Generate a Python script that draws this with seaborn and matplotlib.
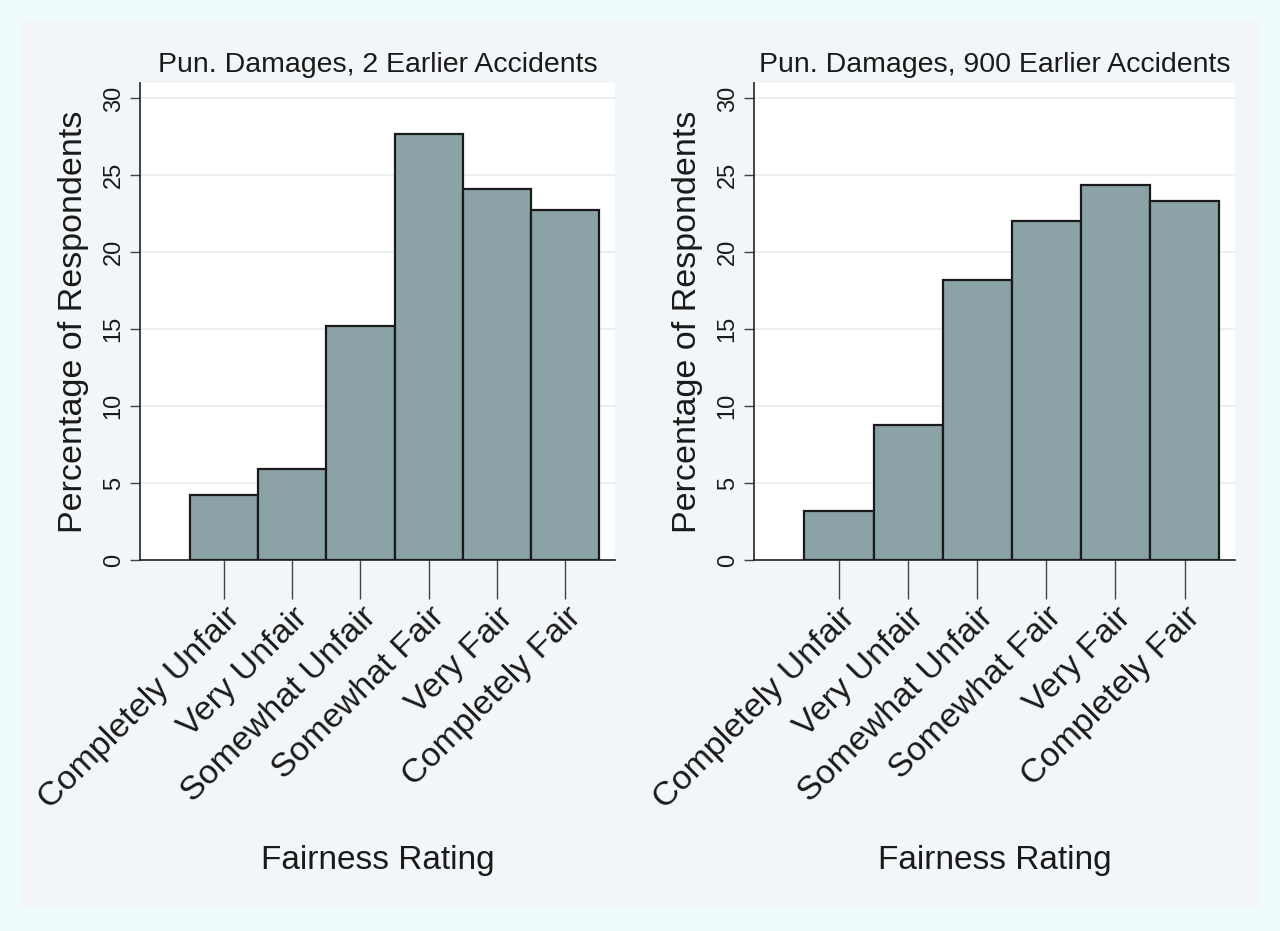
import pandas as pd
import numpy as np
import matplotlib
matplotlib.use('Agg')
import matplotlib.pyplot as plt
from matplotlib.patches import Rectangle
import seaborn as sns

# >> data
ratings = ['Completely Unfair', 'Very Unfair', 'Somewhat Unfair',
           'Somewhat Fair', 'Very Fair', 'Completely Fair']
pct_2_accidents = [4.25, 5.9, 15.2, 27.7, 24.1, 22.75]
pct_900_accidents = [3.2, 8.75, 18.2, 22.05, 24.35, 23.35]
titles = ['Pun. Damages, 2 Earlier Accidents', 'Pun. Damages, 900 Earlier Accidents']
y_ticks = [0, 5, 10, 15, 20, 25, 30]

sns.set_theme(style='white')
plt.rcParams['font.family'] = ['Liberation Sans', 'DejaVu Sans']

bar_color = '#8ba3a6'
ink = '#1a1a1a'

fig = plt.figure(figsize=(12.8, 9.31), dpi=100)
fig.patch.set_facecolor('#eefbfa')
# inner graph region
fig.patches.append(Rectangle((21 / 1280, 1 - 908 / 931), (1259 - 21) / 1280, (908 - 21) / 931,
                             transform=fig.transFigure, facecolor='#f3f6f8',
                             edgecolor='none', zorder=-10))

ax_boxes = [[140 / 1280, 1 - 560 / 931, 475 / 1280, 477 / 931],
            [754 / 1280, 1 - 560 / 931, 481 / 1280, 477 / 931]]

for box, title, vals in zip(ax_boxes, titles, [pct_2_accidents, pct_900_accidents]):
    ax = fig.add_axes(box)
    df = pd.DataFrame({'rating': ratings, 'pct': vals})
    sns.barplot(data=df, x='rating', y='pct', order=ratings, width=1.0,
                color=bar_color, saturation=1, edgecolor=ink, linewidth=1.6, ax=ax, zorder=3)
    ax.set_facecolor('white')
    ax.set_xlim(-1.23, 5.73)
    ax.set_ylim(0, 31)
    ax.set_yticks(y_ticks)
    ax.set_yticklabels([str(t) for t in y_ticks], rotation=90, va='center', fontsize=17)
    ax.yaxis.grid(True, color='#e6eeee', linewidth=1.2, zorder=0)
    ax.set_axisbelow(True)
    ax.set_xticks(range(len(ratings)))
    ax.set_xticklabels(ratings, rotation=45, ha='right', va='top',
                       rotation_mode='anchor', fontsize=24.5)
    ax.tick_params(axis='x', bottom=True, direction='out', length=28, width=1,
                   color='#444444', labelcolor=ink, pad=2)
    ax.tick_params(axis='y', left=True, direction='out', length=7, width=1,
                   color='#444444', labelcolor=ink, pad=4)
    for s in ['top', 'right']:
        ax.spines[s].set_visible(False)
    for s in ['left', 'bottom']:
        ax.spines[s].set_color('#222222')
        ax.spines[s].set_linewidth(1.2)
    ax.set_xlabel('Fairness Rating', fontsize=24, color=ink, labelpad=22)
    ax.set_ylabel('Percentage of Respondents', fontsize=24.5, color=ink, labelpad=10)
    ax.set_title(title, fontsize=20.5, color=ink, pad=8)

fig.savefig('out.png', dpi=100, facecolor=fig.get_facecolor())
